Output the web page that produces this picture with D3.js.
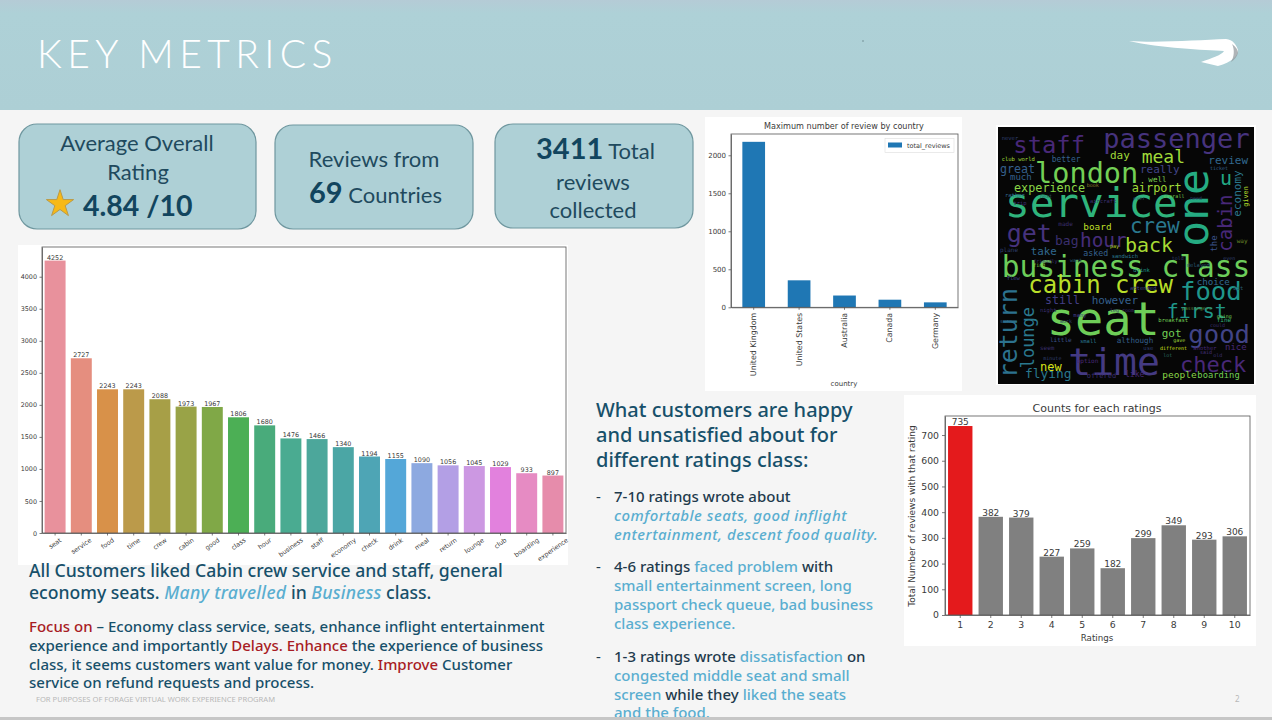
<!DOCTYPE html>
<html>
<head>
<meta charset="utf-8">
<title>Key Metrics</title>
<script src="https://cdn.jsdelivr.net/npm/d3@7"></script>
<style>
  html, body { margin: 0; padding: 0; background: #f5f5f5; overflow: hidden; }
  svg { display: block; }
  .mpl text { font-family: "DejaVu Sans", sans-serif; fill: #3a3a3a; }
  .mpl .domain, .mpl .tick line { stroke: #444; stroke-width: 0.7; }
</style>
</head>
<body>
<div id="slide"></div>
<script>
// word counts chart
const wordCategories = ['seat', 'service', 'food', 'time', 'crew', 'cabin', 'good', 'class', 'hour', 'business',
  'staff', 'economy', 'check', 'drink', 'meal', 'return', 'lounge', 'club', 'boarding', 'experience'];
const wordCounts = [4252, 2727, 2243, 2243, 2088, 1973, 1967, 1806, 1680, 1476,
  1466, 1340, 1194, 1155, 1090, 1056, 1045, 1029, 933, 897];
const wordColors = ['#e8919c', '#e58e7f', '#d89149', '#bb9a4a', '#a79f47', '#99a347', '#80a847', '#4caf55', '#49ab7b', '#4aab91',
  '#4ca79b', '#4ba6a5', '#4ea5b5', '#54a7d8', '#8da9e0', '#b39fe5', '#cc98e2', '#e281dd', '#e68bc3', '#e68cab'];
const wordTicks = [0, 500, 1000, 1500, 2000, 2500, 3000, 3500, 4000];

// reviews by country chart
const countries = ['United Kingdom', 'United States', 'Australia', 'Canada', 'Germany'];
const countryReviews = [2177, 355, 155, 100, 65];
const countryTicks = [0, 500, 1000, 1500, 2000];

// ratings chart
const ratings = ['1', '2', '3', '4', '5', '6', '7', '8', '9', '10'];
const ratingCounts = [735, 382, 379, 227, 259, 182, 299, 349, 293, 306];
const ratingTicks = [0, 100, 200, 300, 400, 500, 600, 700];

// word cloud, coordinates are read in a 810x810 crop of the image
const cloudWords = ['service', 'business class', 'seat', 'time', 'one', 'london', 'passenger', 'staff', 'meal', 'day',
  'better', 'review', 'great', 'really', 'u', 'well', 'experience', 'airport', 'much', 'economy',
  'given', 'cabin', 'get', 'crew', 'hour', 'board', 'back', 'bag', 'take', 'asked',
  'the', 'cabin crew', 'food', 'choice', 'still', 'however', 'first', 'return', 'lounge', 'good',
  'got', 'although', 'nice', 'check', 'new', 'flying', 'people', 'boarding',
  'club world', 'ticket', 'overall', 'rather', 'attended', 'breakfast', 'sandwich', 'option', 'little', 'small',
  'drink', 'find', 'pay', 'gave', 'different', 'another', 'said', 'fine', 'going', 'flew', 'many', 'offered', 'like', 'sure',
  'book', 'trip', 'need', 'next', 'made', 'plane', 'friendly', 'delayed', 'even', 'way', 'night', 'bit', 'work', 'seem',
  'lot', 'minute', 'could', 'ever', 'aircraft', 'told', 'want', 'leg room', 'passengers', 'use', 'old', 'never'];
const cloudLayout = [
  [45, 292, 41, 0], [35, 470, 29.5, 0], [170, 645, 47, 0], [235, 765, 38, 0], [655, 380, 43, -90], [135, 190, 28.6, 0],
  [340, 85, 27, 0], [70, 100, 23.8, 0], [455, 130, 18, 0], [360, 118, 11, 0],
  [185, 127, 8, 0], [655, 133, 11, 0], [30, 160, 11.6, 0], [450, 160, 11, 0], [690, 195, 20, 0], [475, 185, 7.6, 0],
  [72, 217, 11.8, 0], [425, 215, 11.9, 0], [60, 180, 9, 0], [752, 290, 11, -90],
  [775, 260, 6.8, -90], [727, 395, 19, -90], [50, 365, 25, 0], [420, 340, 20.7, 0], [270, 380, 19.4, 0], [280, 330, 9.4, 0],
  [405, 395, 20, 0], [195, 375, 13, 0], [122, 405, 10.8, 0], [280, 408, 8.3, 0],
  [680, 395, 9, -90], [115, 520, 24, 0], [570, 540, 25.6, 0], [620, 495, 9.2, 0], [165, 552, 11.6, 0], [305, 552, 11, 0],
  [530, 595, 20, 0], [82, 775, 25, -90], [132, 745, 17, -90], [595, 670, 25.6, 0],
  [515, 650, 11, 0], [380, 668, 7.6, 0], [705, 690, 9, 0], [570, 755, 22, 0], [150, 752, 12, 0], [105, 775, 12.9, 0],
  [517, 775, 9.5, 0], [622, 775, 8.8, 0],
  [35, 122, 5.5, 0], [660, 150, 5, 0], [520, 235, 5, 0], [45, 232, 5.5, 0], [420, 510, 5.5, 0], [505, 605, 5.5, 0],
  [365, 415, 5.5, 0], [260, 730, 6, 0], [180, 665, 6, 0], [270, 668, 5.5, 0],
  [430, 455, 5.5, 0], [130, 442, 5, 0], [360, 385, 5, 0], [550, 665, 5, 0], [510, 690, 5, 0], [610, 690, 5.5, 0],
  [630, 702, 5, 0], [680, 605, 6, 0], [680, 595, 5, 0], [50, 480, 5.5, 0], [250, 590, 5.5, 0], [290, 775, 7, 0],
  [405, 770, 8, 0], [30, 610, 5, 0],
  [290, 200, 5, 0], [70, 255, 5.5, 0], [600, 240, 5, 0], [150, 235, 5, 0], [205, 318, 6, 0], [30, 395, 6, 0],
  [130, 430, 5, 0], [590, 440, 5.5, 0], [700, 420, 5, 0], [740, 370, 6, 0], [150, 575, 5.5, 0], [730, 510, 5.5, 0],
  [210, 610, 5, 0], [150, 690, 6, 0], [520, 710, 5, 0], [160, 720, 5, 0], [660, 620, 5, 0], [430, 240, 5, 0],
  [300, 250, 5.5, 0], [545, 420, 5, 0], [240, 425, 5, 0], [360, 575, 5, 0], [575, 570, 5, 0], [460, 690, 5.5, 0],
  [670, 710, 5, 0], [35, 60, 5.5, 0]];
const cloudColors = ['#2fb47c', '#6ccd5a', '#6ece58', '#443a83', '#25ab82', '#73d055',
  '#46337e', '#482878', '#a0da39', '#a0da39', '#35608d', '#31688e', '#35608d', '#414487', '#22a884', '#7ad151',
  '#8bd646', '#a0da39', '#35608d', '#2a788e', '#b5de2b', '#482878', '#46337e', '#2a788e', '#472d7b', '#bddf26',
  '#a8db34', '#3b2f6e', '#31688e', '#35608d', '#3b528b', '#b8de29', '#1f968b', '#31688e', '#433e85', '#35608d',
  '#1f968b', '#2c728e', '#2a788e', '#414487', '#73d055', '#35608d', '#482878', '#482878', '#d8e219', '#2a788e',
  '#8bd646', '#73d055',
  '#a0da39', '#35608d', '#7ad151', '#31688e', '#414487', '#73d055', '#2a788e', '#482878', '#3b528b', '#2a788e',
  '#1f968b', '#8bd646', '#bddf26', '#a0da39', '#d8e219', '#482878', '#46337e', '#35b779', '#73d055', '#414487',
  '#433e85', '#3b2f6e', '#482878', '#31688e',
  '#8a7a2a', '#3b2f6e', '#2f3f6e', '#2a5a6e', '#3b2f6e', '#2f3f6e', '#3b2f6e', '#2a5a6e', '#2f3f6e', '#6a8a2a',
  '#3b2f6e', '#2a5a6e', '#2f3f6e', '#3b2f6e', '#2a6a5e', '#2f3f6e', '#3b2f6e', '#2a5a6e', '#3b2f6e', '#2f3f6e',
  '#2a5a6e', '#3b2f6e', '#5a8a3a', '#2f3f6e', '#3b2f6e', '#2f3f6e'];

const svg = d3.select('#slide').append('svg').attr('width', 1272).attr('height', 720);
const NAVY = '#17506a', BLUE = '#5aaed0', RED = '#a81c24', INK = '#1f3b4d';
const BODY = '"Noto Sans", "Open Sans", sans-serif', CARD = 'Lato, sans-serif';

svg.append('rect').attr('width', 1272).attr('height', 720).attr('fill', '#f5f5f5');

// Header band
const headGrad = svg.append('defs').append('linearGradient').attr('id', 'headGrad').attr('x2', 0).attr('y2', 1);
headGrad.append('stop').attr('offset', 0).attr('stop-color', '#b5cbd6');
headGrad.append('stop').attr('offset', 0.12).attr('stop-color', '#aed1d7');
headGrad.append('stop').attr('offset', 1).attr('stop-color', '#adcfd5');
svg.append('rect').attr('width', 1272).attr('height', 110).attr('fill', 'url(#headGrad)');
svg.append('text').attr('x', 37).attr('y', 68)
  .attr('font-family', CARD).attr('font-weight', 300).attr('font-size', 39).attr('letter-spacing', 5.4)
  .attr('fill', '#fff').text('KEY METRICS');
svg.append('path').attr('fill', '#fff')
  .attr('d', 'M1129 41 C1160 43 1200 40 1226 39 C1233 40 1236 44 1238 50 C1238 56 1232 62 1218 66 L1201 62 C1212 58 1222 55 1224 51 C1205 50 1160 48 1129 41 Z');
svg.append('path').attr('fill', '#8f9498').attr('opacity', 0.7)
  .attr('d', 'M1232 44 C1236 47 1238 50 1238 53 C1237 57 1234 60 1231 62 C1234 57 1235 50 1232 44 Z');
svg.append('circle').attr('cx', 863).attr('cy', 41).attr('r', 0.8).attr('fill', '#6f8a90');

// KPI cards
[[19, 124, 237, 105], [275, 125, 198, 104], [495, 124, 198, 104]].forEach(([x, y, w, h]) => {
  svg.append('rect').attr('x', x).attr('y', y).attr('width', w).attr('height', h).attr('rx', 18)
    .attr('fill', '#aed0d6').attr('stroke', '#6f979f').attr('stroke-width', 1.2);
});

function richLine(x, y, size, family, runs, anchor, weight) {
  const t = svg.append('text').attr('x', x).attr('y', y).attr('font-size', size)
    .attr('font-family', family).attr('text-anchor', anchor || 'start');
  runs.forEach(r => {
    t.append('tspan').attr('fill', r.color).attr('font-weight', r.weight || weight || 400)
      .attr('font-style', r.italic ? 'italic' : 'normal').attr('font-size', r.size || size)
      .attr('letter-spacing', r.spacing || null)
      .text(r.text);
  });
  return t;
}
const cardInk = '#1f4a5e', cardBold = '#12455e';
richLine(137, 151, 22, CARD, [{ text: 'Average Overall', color: cardInk }], 'middle');
richLine(138, 180, 22, CARD, [{ text: 'Rating', color: cardInk }], 'middle');
richLine(83, 216, 28.5, CARD, [{ text: '4.84 /10', color: cardBold, weight: 700 }]);
svg.append('path').attr('d', d3.symbol().type(d3.symbolStar).size(230)())
  .attr('transform', 'translate(60,204)').attr('fill', '#f7b916').attr('stroke', '#b99a4a');
richLine(374, 167, 22, CARD, [{ text: 'Reviews from', color: cardInk }], 'middle');
richLine(309, 203, 22, CARD, [{ text: '69', color: cardBold, weight: 700, size: 29 }, { text: ' Countries', color: cardInk }]);
richLine(536, 159, 22, CARD, [{ text: '3411', color: cardBold, weight: 700, size: 29 }, { text: ' Total', color: cardInk }]);
richLine(593, 190, 22, CARD, [{ text: 'reviews', color: cardInk }], 'middle');
richLine(593, 218, 22, CARD, [{ text: 'collected', color: cardInk }], 'middle');

// White backgrounds behind the pasted charts
[[18, 245, 550, 320], [705, 117, 257, 274], [904, 395, 352, 251]].forEach(([x, y, w, h]) => {
  svg.append('rect').attr('x', x).attr('y', y).attr('width', w).attr('height', h).attr('fill', '#fff');
});

// Shared bar chart drawing
function barChart(opt) {
  const g = svg.append('g').attr('class', 'mpl');
  const x = d3.scaleBand().domain(opt.categories).range([opt.left, opt.right])
    .paddingInner(opt.padding).paddingOuter(opt.padding / 2);
  const y = d3.scaleLinear().domain([0, opt.yMax]).range([opt.bottom, opt.top]);

  g.selectAll('rect.bar').data(opt.values).enter().append('rect')
    .attr('class', 'bar')
    .attr('x', (d, i) => x(opt.categories[i]))
    .attr('y', d => y(d))
    .attr('width', x.bandwidth())
    .attr('height', d => y(0) - y(d))
    .attr('fill', (d, i) => opt.color(i));

  if (opt.showValues) {
    g.selectAll('text.val').data(opt.values).enter().append('text')
      .attr('class', 'val')
      .attr('x', (d, i) => x(opt.categories[i]) + x.bandwidth() / 2)
      .attr('y', d => y(d) - 1)
      .attr('text-anchor', 'middle')
      .attr('font-size', opt.valueSize)
      .text(d => d);
  }

  const yAxis = g.append('g').attr('transform', `translate(${opt.left},0)`)
    .call(d3.axisLeft(y).tickValues(opt.ticks).tickFormat(d3.format('d')).tickSize(opt.tickLen).tickSizeOuter(0).tickPadding(opt.tickLen));
  yAxis.selectAll('text').attr('font-size', opt.tickSize).attr('font-family', null);
  const xAxis = g.append('g').attr('transform', `translate(0,${opt.bottom})`)
    .call(d3.axisBottom(x).tickSize(opt.tickLen).tickSizeOuter(0).tickPadding(opt.tickLen));
  xAxis.selectAll('text').attr('font-size', opt.xTickSize || opt.tickSize).attr('font-family', null);

  if (opt.xRotate) {
    const rad = Math.abs(opt.xRotate) * Math.PI / 180;
    xAxis.selectAll('.tick text').each(function () {
      const w = this.getComputedTextLength();
      const drop = opt.xRotate === -90 ? opt.tickLen + 3 : opt.tickLen + 4 + w * Math.sin(rad) / 2;
      d3.select(this).attr('y', 0).attr('dy', '0.32em')
        .attr('text-anchor', opt.xRotate === -90 ? 'end' : 'middle')
        .attr('transform', `translate(0,${drop}) rotate(${opt.xRotate})`);
    });
  }

  g.append('rect').attr('x', opt.left).attr('y', opt.top)
    .attr('width', opt.right - opt.left).attr('height', opt.bottom - opt.top)
    .attr('fill', 'none').attr('stroke', '#555').attr('stroke-width', 0.8);
  return g;
}

barChart({
  categories: wordCategories, values: wordCounts, ticks: wordTicks,
  left: 42, right: 566, top: 247, bottom: 533, yMax: 4464, padding: 0.2,
  color: i => wordColors[i], showValues: true, valueSize: 6.4, tickSize: 6.4, xTickSize: 6.4, tickLen: 2.5, xRotate: -35
});

const c2 = barChart({
  categories: countries, values: countryReviews, ticks: countryTicks,
  left: 731, right: 958, top: 134, bottom: 307.3, yMax: 2280, padding: 0.5,
  color: () => '#1f77b4', tickSize: 7, xTickSize: 7.9, tickLen: 2.5, xRotate: -90
});
c2.append('text').attr('x', 844).attr('y', 129).attr('text-anchor', 'middle').attr('font-size', 8.1).text('Maximum number of review by country');
c2.append('text').attr('x', 844).attr('y', 386).attr('text-anchor', 'middle').attr('font-size', 7).text('country');
c2.append('rect').attr('x', 885).attr('y', 138.5).attr('width', 69).attr('height', 14)
  .attr('fill', '#fff').attr('stroke', '#ddd').attr('stroke-width', 0.6);
c2.append('rect').attr('x', 888).attr('y', 142.5).attr('width', 14).attr('height', 5).attr('fill', '#1f77b4');
c2.append('text').attr('x', 907).attr('y', 148).attr('font-size', 6.5).text('total_reviews');

const c4 = barChart({
  categories: ratings, values: ratingCounts, ticks: ratingTicks,
  left: 945, right: 1250, top: 416, bottom: 615, yMax: 774, padding: 0.2,
  color: i => (i === 0 ? '#e41a1c' : '#808080'), showValues: true, valueSize: 9, tickSize: 9.3, tickLen: 3
});
c4.append('text').attr('x', 1097).attr('y', 412).attr('text-anchor', 'middle').attr('font-size', 11).text('Counts for each ratings');
c4.append('text').attr('x', 1097).attr('y', 641).attr('text-anchor', 'middle').attr('font-size', 8.7).text('Ratings');
c4.append('text').attr('transform', 'translate(915,516) rotate(-90)').attr('text-anchor', 'middle').attr('font-size', 9)
  .text('Total Number of reviews with that rating');

// Word cloud
const cloudX = d3.scaleLinear().domain([0, 810]).range([990, 1260]);
const cloudY = d3.scaleLinear().domain([0, 810]).range([120, 390]);
svg.append('rect').attr('x', 996).attr('y', 125).attr('width', 260).attr('height', 260).attr('fill', '#fff');
svg.append('rect').attr('x', 998).attr('y', 127).attr('width', 256).attr('height', 257).attr('fill', '#060606');
const cloud = svg.append('g').attr('font-family', '"DejaVu Sans Mono", monospace');
cloud.selectAll('text').data(cloudWords).enter().append('text')
  .attr('transform', (d, i) => `translate(${cloudX(cloudLayout[i][0])},${cloudY(cloudLayout[i][1])}) rotate(${cloudLayout[i][3]})`)
  .attr('font-size', (d, i) => cloudLayout[i][2])
  .attr('fill', (d, i) => cloudColors[i])
  .text(d => d);

// Left commentary
richLine(29, 577, 17.6, BODY, [{ text: 'All Customers liked Cabin crew service and staff, general', color: NAVY }], null, 500);
richLine(29, 599, 17.6, BODY, [
  { text: 'economy seats. ', color: NAVY }, { text: 'Many travelled', color: BLUE, italic: true, spacing: 0.3 },
  { text: ' in  ', color: NAVY }, { text: 'Business', color: BLUE, italic: true, spacing: 0.2 }, { text: ' class.', color: NAVY }], null, 500);
richLine(29, 632, 15, BODY, [{ text: 'Focus on', color: RED }, { text: ' – Economy class service, seats, enhance inflight entertainment', color: NAVY }], null, 500);
richLine(29, 651, 15, BODY, [
  { text: 'experience and importantly ', color: NAVY }, { text: 'Delays.', color: RED }, { text: ' ', color: NAVY },
  { text: 'Enhance', color: RED }, { text: ' the experience of business', color: NAVY }], null, 500);
richLine(29, 670, 15, BODY, [{ text: 'class, it seems customers want value for money. ', color: NAVY }, { text: 'Improve', color: RED }, { text: ' Customer', color: NAVY }], null, 500);
richLine(29, 688, 15, BODY, [{ text: 'service on refund requests and process.', color: NAVY }], null, 500);
richLine(36, 702, 7.6, BODY, [{ text: 'FOR PURPOSES OF FORAGE VIRTUAL WORK EXPERIENCE PROGRAM', color: '#b8b8b8' }]);
richLine(1235, 702, 8, BODY, [{ text: '2', color: '#b8b8b8' }]);

// Right commentary
richLine(596, 417, 20, BODY, [{ text: 'What customers are happy', color: NAVY, weight: 500 }]);
richLine(596, 442, 20, BODY, [{ text: 'and unsatisfied about for', color: NAVY, weight: 500 }]);
richLine(596, 467, 20, BODY, [{ text: 'different ratings class:', color: NAVY, weight: 500 }]);

[502, 572, 662].forEach(y => richLine(596, y, 15, BODY, [{ text: '-', color: INK }]));
richLine(614, 502, 15, BODY, [{ text: '7-10 ratings wrote about', color: INK }], null, 500);
richLine(614, 521, 15, BODY, [{ text: 'comfortable seats, good inflight', color: BLUE, italic: true, spacing: 0.5 }], null, 500);
richLine(614, 540, 15, BODY, [{ text: 'entertainment, descent food quality.', color: BLUE, italic: true, spacing: 0.5 }], null, 500);
richLine(614, 572, 15, BODY, [{ text: '4-6 ratings ', color: INK }, { text: 'faced problem', color: BLUE }, { text: ' with', color: INK }], null, 500);
richLine(614, 591, 15, BODY, [{ text: 'small entertainment screen, long', color: BLUE }], null, 500);
richLine(614, 610, 15, BODY, [{ text: 'passport check queue, bad business', color: BLUE }], null, 500);
richLine(614, 629, 15, BODY, [{ text: 'class experience.', color: BLUE }], null, 500);
richLine(614, 662, 15, BODY, [{ text: '1-3 ratings wrote ', color: INK }, { text: 'dissatisfaction', color: BLUE }, { text: ' on', color: INK }], null, 500);
richLine(614, 681, 15, BODY, [{ text: 'congested middle seat and small', color: BLUE }], null, 500);
richLine(614, 700, 15, BODY, [{ text: 'screen', color: BLUE }, { text: ' while they ', color: INK }, { text: 'liked the seats', color: BLUE }], null, 500);
richLine(614, 718, 15, BODY, [{ text: 'and the food.', color: BLUE }], null, 500);

// Bottom edge of the slide
svg.append('rect').attr('y', 717).attr('width', 1272).attr('height', 3).attr('fill', '#c6c6c6');
</script>
</body>
</html>
